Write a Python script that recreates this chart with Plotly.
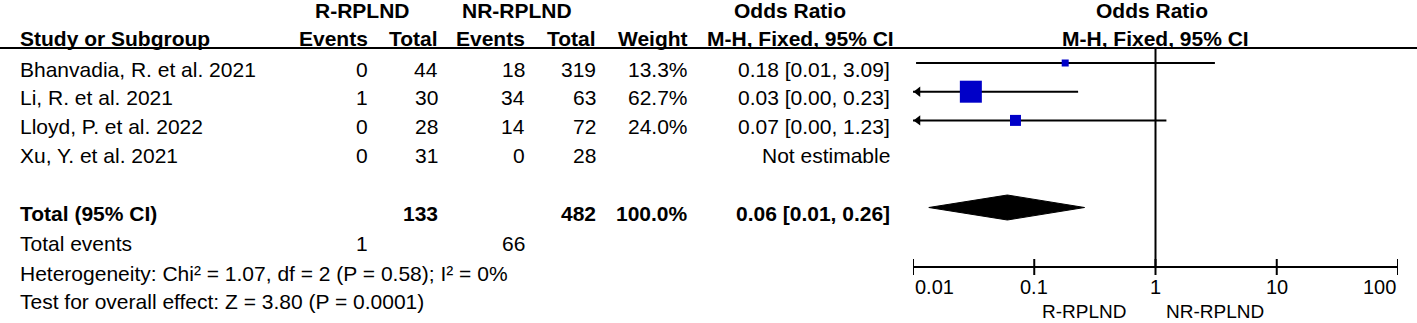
import math
import plotly.graph_objects as go

# ---------------- data ----------------
studies = ["Bhanvadia, R. et al. 2021", "Li, R. et al. 2021",
           "Lloyd, P. et al. 2022", "Xu, Y. et al. 2021"]
r_events = [0, 1, 0, 0]
r_total = [44, 30, 28, 31]
nr_events = [18, 34, 14, 0]
nr_total = [319, 63, 72, 28]
weights = [13.3, 62.7, 24.0, None]
or_est = [0.18, 0.03, 0.07, None]
ci_low = [0.0106, 0.004, 0.004, None]
ci_high = [3.09, 0.23, 1.23, None]

total_r_events = 1
total_r = 133
total_nr_events = 66
total_nr = 482
total_weight = 100.0
pooled_or = 0.06
pooled_low = 0.0135
pooled_high = 0.26

heterogeneity = "Heterogeneity: Chi² = 1.07, df = 2 (P = 0.58); I² = 0%"
overall = "Test for overall effect: Z = 3.80 (P = 0.0001)"
group_a = "R-RPLND"
group_b = "NR-RPLND"
tick_vals = [0.01, 0.1, 1, 10, 100]
tick_text = ["0.01", "0.1", "1", "10", "100"]

# ---------------- layout constants ----------------
W, H = 1417, 323
AX_L, AX_R = 913, 1398            # pixel extent of the log axis
XMIN, XMAX = 0.01, 100
PX_DEC = (AX_R - AX_L) / (math.log10(XMAX) - math.log10(XMIN))
FONT = "Liberation Sans, Arial, sans-serif"
FS = 21
BLUE = "#0000C8"

row_text_y = [69 + i * 28.7 for i in range(len(studies))]
MARK_OFF = -6
total_y = 213
tev_y = 243
het_y = 273
test_y = 301
head1_y = 10
head2_y = 38
line_y = 48
axis_y = 267
ticklab_y = 287
fav_y = 311
sq_sizes = [7, 22, 11, None]

# column right edges
C_EV_R, C_TOT_R, C_EV_NR, C_TOT_NR, C_W, C_OR = 370, 440, 527, 598, 690, 892
C_LEFT = 18

fig = go.Figure()

def px(x):
    return x / W

annots = []

def txt(x, y, s, anchor="right", bold=False, size=FS, xref="paper"):
    annots.append(dict(
        x=px(x) if xref == "paper" else x, y=y, xref=xref, yref="y",
        text=f"<b>{s}</b>" if bold else s, showarrow=False,
        xanchor=anchor, yanchor="middle",
        font=dict(family=FONT, size=size, color="#000")))

# headers
txt(362, head1_y, group_a, "center", True)
txt(517, head1_y, group_b, "center", True)
txt(790, head1_y, "Odds Ratio", "center", True)
txt(1152, head1_y, "Odds Ratio", "center", True)
txt(C_LEFT, head2_y, "Study or Subgroup", "left", True)
txt(C_EV_R, head2_y, "Events", bold=True)
txt(C_TOT_R, head2_y, "Total", bold=True)
txt(C_EV_NR, head2_y, "Events", bold=True)
txt(C_TOT_NR, head2_y, "Total", bold=True)
txt(C_W, head2_y, "Weight", bold=True)
txt(800, head2_y, "M-H, Fixed, 95% CI", "center", True)
txt(1155, head2_y, "M-H, Fixed, 95% CI", "center", True)

# study rows
for i, s in enumerate(studies):
    y = row_text_y[i]
    txt(C_LEFT, y, s, "left")
    txt(C_EV_R, y, str(r_events[i]))
    txt(C_TOT_R, y, str(r_total[i]))
    txt(C_EV_NR, y, str(nr_events[i]))
    txt(C_TOT_NR, y, str(nr_total[i]))
    if weights[i] is not None:
        txt(C_W, y, f"{weights[i]:.1f}%")
        txt(C_OR, y, f"{or_est[i]:.2f} [{ci_low[i]:.2f}, {ci_high[i]:.2f}]")
    else:
        txt(C_OR, y, "Not estimable")

# totals
txt(C_LEFT, total_y, "Total (95% CI)", "left", True)
txt(C_TOT_R, total_y, str(total_r), bold=True)
txt(C_TOT_NR, total_y, str(total_nr), bold=True)
txt(C_W, total_y, f"{total_weight:.1f}%", bold=True)
txt(C_OR, total_y, f"{pooled_or:.2f} [{pooled_low:.2f}, {pooled_high:.2f}]", bold=True)
txt(C_LEFT, tev_y, "Total events", "left")
txt(C_EV_R, tev_y, str(total_r_events))
txt(C_EV_NR, tev_y, str(total_nr_events))
txt(C_LEFT, het_y, heterogeneity, "left")
txt(C_LEFT, test_y, overall, "left")

# tick labels (first/last shifted inward as in RevMan)
for k, (v, t) in enumerate(zip(tick_vals, tick_text)):
    anchor = "left" if k == 0 else ("right" if k == len(tick_vals) - 1 else "center")
    annots.append(dict(x=math.log10(v), y=ticklab_y, xref="x", yref="y", text=t,
                       showarrow=False, xanchor=anchor, yanchor="middle",
                       font=dict(family=FONT, size=20, color="#000")))
txt(1128, fav_y, group_a, "right", size=19)
txt(1164, fav_y, group_b, "left", size=19)

# ---------------- forest marks ----------------
BLACK = "#000"
# CI lines and arrows
for i in range(len(studies)):
    if or_est[i] is None:
        continue
    y = row_text_y[i] + MARK_OFF
    lo = max(ci_low[i], XMIN)
    hi = min(ci_high[i], XMAX)
    fig.add_trace(go.Scatter(x=[lo, hi], y=[y, y], mode="lines",
                             line=dict(color=BLACK, width=2), hoverinfo="skip"))
    if ci_low[i] < XMIN:
        ax = 10 ** (math.log10(XMIN) + 5 / PX_DEC)
        fig.add_trace(go.Scatter(x=[ax], y=[y], mode="markers",
                                 marker=dict(symbol="triangle-left", size=9, color=BLACK,
                                             opacity=1, line=dict(width=0)),
                                 hoverinfo="skip"))

# squares
sx, sy, ss = [], [], []
for i in range(len(studies)):
    if or_est[i] is None:
        continue
    sx.append(or_est[i]); sy.append(row_text_y[i] + MARK_OFF); ss.append(sq_sizes[i])
fig.add_trace(go.Scatter(x=sx, y=sy, mode="markers",
                         marker=dict(symbol="square", size=ss, color=BLUE, opacity=1,
                                     line=dict(width=0)),
                         hoverinfo="skip"))

# diamond
dy = total_y - 5.5
hh = 12.5
fig.add_trace(go.Scatter(x=[pooled_low, pooled_or, pooled_high, pooled_or, pooled_low],
                         y=[dy, dy - hh, dy, dy + hh, dy], mode="lines", fill="toself",
                         fillcolor=BLACK, line=dict(color=BLACK, width=1), hoverinfo="skip"))

# line of no effect
fig.add_trace(go.Scatter(x=[1, 1], y=[line_y, axis_y], mode="lines",
                         line=dict(color=BLACK, width=2), hoverinfo="skip"))

# axis line and crossing ticks
axx, axy = [XMIN, XMAX, None], [axis_y, axis_y, None]
for v in tick_vals:
    axx += [v, v, None]
    axy += [axis_y - 8, axis_y + 8, None]
fig.add_trace(go.Scatter(x=axx, y=axy, mode="lines",
                         line=dict(color=BLACK, width=2), hoverinfo="skip"))

fig.update_layout(
    width=W, height=H, margin=dict(l=0, r=0, t=0, b=0),
    paper_bgcolor="white", plot_bgcolor="white", showlegend=False,
    xaxis=dict(type="log", range=[math.log10(XMIN), math.log10(XMAX)],
               domain=[AX_L / W, AX_R / W], visible=False),
    yaxis=dict(range=[H, 0], domain=[0, 1], visible=False),
    annotations=annots,
    shapes=[dict(type="line", xref="paper", yref="y", x0=0, x1=1, y0=line_y, y1=line_y,
                 line=dict(color=BLACK, width=2))],
)

fig.write_html("out.html", config={"displayModeBar": False, "staticPlot": True},
               post_script="document.body.style.margin='0px';document.body.style.overflow='hidden';")
